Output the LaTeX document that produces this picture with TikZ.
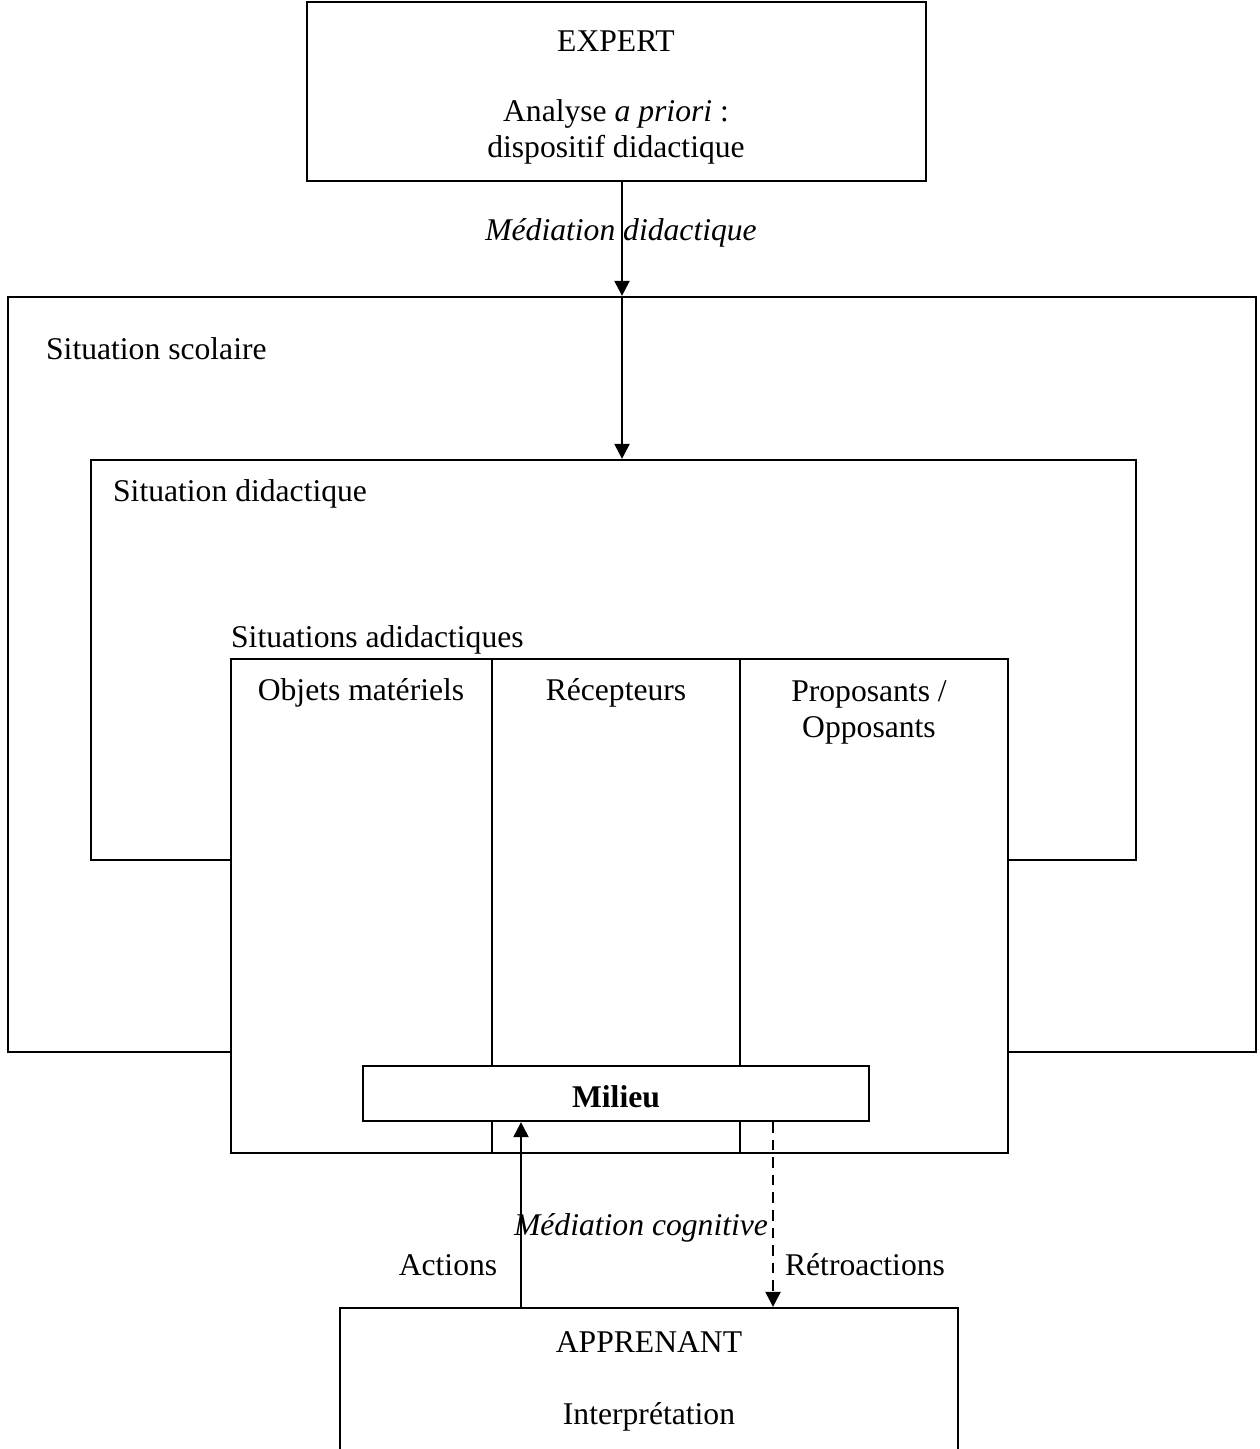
\documentclass[tikz,border=0pt]{standalone}
\usepackage{fontspec}
\setmainfont{Liberation Serif}
\usetikzlibrary{arrows.meta,fit}
\begin{document}
\begin{tikzpicture}[x=0.02cm, y=-0.02cm, line width=1.3pt, >={Triangle[length=8.5pt,width=8.5pt]},
  font=\fontsize{18}{20.5}\selectfont,
  box/.style={draw, fill=white, inner sep=0pt, line width=1.3pt},
  lbl/.style={inner sep=0pt, anchor=west}]
\useasboundingbox (0,0) rectangle (1259,1449);
% boxes, outside in
\node[box, fit={(8,297)(1256,1052)}] (scolaire) {};
\node[box, fit={(91,460)(1136,860)}] (didac) {};
\node[box, fit={(231,659)(1008,1153)}] (adidac) {};
\draw (492,659) coordinate (c1) -- (c1 |- adidac.south);
\draw (740,659) coordinate (c2) -- (c2 |- adidac.south);
\node[box, fit={(363,1066)(869,1121)}] (milieu) {};
\node[font=\fontsize{18}{20.5}\selectfont\bfseries] at ([yshift=-0.06cm]milieu) {Milieu};
\node[box, fit={(307,2)(926,181)}] (expert) {};
\node[box, fit={(340,1308)(958,1470)}] (apprenant) {};
% texts
\node (expertT) at (616,41) {EXPERT};
\node[align=center] (analyse) at (616,132) {Analyse \textit{a priori} :\\dispositif didactique};
\node (apprT) at (649,1342) {APPRENANT};
\node (interp) at (649,1417) {Interprétation};
\node[lbl] (scolT) at (45,349) {Situation scolaire};
\node[lbl] (didacT) at (112,494) {Situation didactique};
\node[lbl] (adidacT) at (230,640) {Situations adidactiques};
\node (objets) at (361,693) {Objets matériels};
\node (recept) at (616,693) {Récepteurs};
\node[align=center] (propos) at (869,712) {Proposants /\\Opposants};
% arrows
\coordinate (med) at (622,0);
\draw[->] (med |- expert.south) -- (med |- scolaire.north);
\draw[->] (med |- scolaire.north) -- (med |- didac.north);
\node[font=\fontsize{18}{20.5}\selectfont\itshape] (medD) at (621,233) {Médiation didactique};
\coordinate (act) at (521,0);
\coordinate (retro) at (773,0);
\draw[->] (act |- apprenant.north) -- (act |- milieu.south);
\draw[->, dashed, dash pattern=on 6pt off 4pt] (retro |- milieu.south) -- (retro |- apprenant.north);
\node[font=\fontsize{18}{20.5}\selectfont\itshape] (medC) at (641,1228) {Médiation cognitive};
\node (actT) at (448,1265) {Actions};
\node (retroT) at (865,1265) {Rétroactions};
\end{tikzpicture}
\end{document}
